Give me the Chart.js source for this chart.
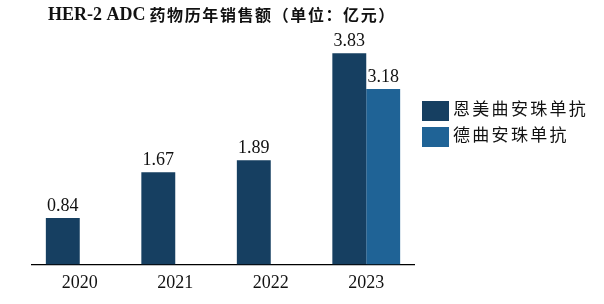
<!DOCTYPE html>
<html><head><meta charset="utf-8">
<script src="https://cdn.jsdelivr.net/npm/chart.js@4.4.1/dist/chart.umd.min.js"></script>
<style>html,body{margin:0;padding:0;background:#fff;}#wrap{width:604px;height:304px;position:relative;}</style>
</head><body><div id="wrap"><canvas id="c" width="604" height="304"></canvas></div>
<script>
const titleLatin = 'HER-2 ADC';
const titleCJK = '药物历年销售额（单位：亿元）';
const categories = ['2020', '2021', '2022', '2023'];
const seriesNames = ['恩美曲安珠单抗', '德曲安珠单抗'];
const kadcylaValues = [0.84, 1.67, 1.89, 3.83];
const enhertuValues = [null, null, null, 3.18];
const colors = ['#163f61', '#1f6396'];

const serif = '"Liberation Serif", "Noto Sans CJK SC", serif';

const overlay = {
  id: 'overlay',
  afterDatasetsDraw(chart) {
    const ctx = chart.ctx;
    ctx.save();
    ctx.fillStyle = '#111';
    ctx.font = '18px ' + serif;
    ctx.textAlign = 'center';
    ctx.textBaseline = 'middle';
    chart.data.datasets.forEach((ds, i) => {
      const meta = chart.getDatasetMeta(i);
      meta.data.forEach((el, j) => {
        const v = ds.data[j];
        if (v == null) return;
        ctx.fillText(v.toFixed(2), el.x, el.y - 12);
      });
    });
    // title
    ctx.textAlign = 'left';
    ctx.font = 'bold 18px ' + serif;
    ctx.fillText(titleLatin, 48, 15);
    const w = ctx.measureText(titleLatin).width;
    ctx.font = 'bold 16px "Noto Sans CJK SC", sans-serif';
    ctx.letterSpacing = '1.6px';
    ctx.fillText(titleCJK, 48 + w + 4, 15);
    // legend
    ctx.font = '17px ' + serif;
    ctx.letterSpacing = '2.3px';
    chart.data.datasets.forEach((ds, i) => {
      const y = 101 + i * 26;
      ctx.fillStyle = ds.backgroundColor;
      ctx.fillRect(422, y, 27, 20);
      ctx.fillStyle = '#111';
      ctx.fillText(ds.label, 453, y + 10);
    });
    ctx.restore();
  }
};

new Chart(document.getElementById('c'), {
  type: 'bar',
  data: {
    labels: categories,
    datasets: [
      { label: seriesNames[0], data: kadcylaValues, backgroundColor: colors[0] },
      { label: seriesNames[1], data: enhertuValues, backgroundColor: colors[1] }
    ]
  },
  options: {
    responsive: false,
    animation: false,
    devicePixelRatio: 1,
    layout: { padding: { left: 32, right: 190, top: 30, bottom: 2 } },
    datasets: { bar: { categoryPercentage: 0.71, barPercentage: 1.0, skipNull: false } },
    plugins: { legend: { display: false }, title: { display: false }, tooltip: { enabled: false } },
    scales: {
      x: {
        grid: { display: false, drawTicks: false },
        border: { display: true, color: '#000', width: 1.2 },
        ticks: { color: '#111', font: { family: serif, size: 18 }, padding: 8 }
      },
      y: { display: false, min: 0, max: 4.25 }
    }
  },
  plugins: [overlay]
});
</script></body></html>
